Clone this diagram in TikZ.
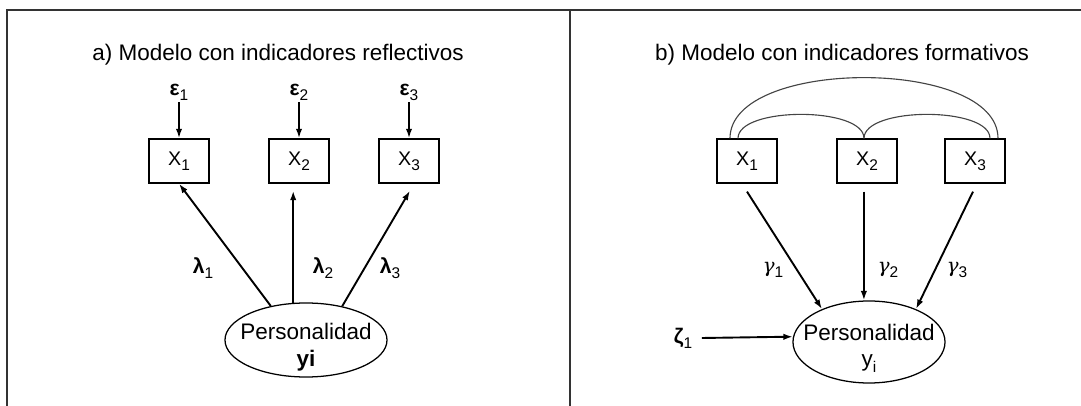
\documentclass[tikz,border=0pt]{standalone}
\usepackage{fontspec}
\setmainfont{Liberation Sans}
\newfontfamily\grkfont{DejaVu Serif}
\usetikzlibrary{arrows.meta,positioning,calc,shapes.geometric}
\definecolor{framegray}{HTML}{333333}
\definecolor{arcgray}{HTML}{444444}
\newcommand{\idx}[1]{\raisebox{-0.45ex}{\fontsize{11}{11}\selectfont #1}}
\newcommand{\gam}{{\grkfont\itshape\fontsize{14}{14}\selectfont γ}}
\tikzset{
  indbox/.style={
    draw,
    line width=0.9pt,
    minimum width=1.5cm,
    minimum height=1.1cm,
    inner sep=0pt,
    font=\fontsize{14}{14}\selectfont
  },
  latent/.style={draw, ellipse, line width=0.9pt, inner sep=0pt},
  latlabel/.style={align=center, font=\fontsize{16}{19}\selectfont, inner sep=0pt},
  paneltitle/.style={font=\fontsize{16}{16}\selectfont},
  coeflabel/.style={font=\fontsize{15}{15}\selectfont, inner sep=1pt},
  pathar/.style={-{Latex[length=2.4mm,width=1.6mm]}, line width=1.35pt},
  covarc/.style={line width=0.8pt, draw=arcgray},
  framerule/.style={line width=1.4pt, draw=framegray}
}

\begin{document}
\begin{tikzpicture}[x=0.025cm, y=-0.025cm]
\useasboundingbox (0,0) rectangle (1081,406);
% frame and divider
\draw[framerule] (7,406) -- (7,10) -- (1081,10);
\draw[framerule] (570,10) -- (570,406);

% a) reflective model
\node[paneltitle] (titleA) at (278,55) {a) Modelo con indicadores reflectivos};
\node[indbox] (ra1) at (179,161) {X\idx{1}};
\node[indbox] (ra2) at (299,161) {X\idx{2}};
\node[indbox] (ra3) at (409,161) {X\idx{3}};
\foreach \i in {1,2,3}
  \node[coeflabel, above=9mm of ra\i] (eps\i) {\textbf{ε}\idx{\i}};
\node[latent, minimum width=4.05cm, minimum height=1.85cm] (persA) at (306,340) {};
\node[latlabel] (persAtxt) at (306,347) {Personalidad\\\textbf{yi}};

\foreach \i in {1,2,3}
  \draw[pathar] (eps\i) -- (ra\i);
\draw[pathar] (persA.136) -- (ra1.south);
\draw[pathar] (persA.109) -- ($(persA.109 |- ra2.south)+(0,7)$);
\draw[pathar] (persA.43) -- ($(ra3.south)+(1,7)$);
\node[coeflabel] (lam1) at (203,268) {\textbf{λ}\idx{1}};
\node[coeflabel] (lam2) at (323,268) {\textbf{λ}\idx{2}};
\node[coeflabel] (lam3) at (390,268) {\textbf{λ}\idx{3}};

% b) formative model
\node[paneltitle] (titleB) at (842,55) {b) Modelo con indicadores formativos};
\node[indbox] (fb1) at (747,161) {X\idx{1}};
\node[indbox] (fb2) at (867,161) {X\idx{2}};
\node[indbox] (fb3) at (975,161) {X\idx{3}};
\node[latent, minimum width=3.8cm, minimum height=2.05cm] (persB) at (869,342) {};
\node[latlabel] (persBtxt) at (869,348) {Personalidad\\y\idx{i}};

\draw[covarc] ($(fb1.north)+(-17,0)$) .. controls +(0,-81) and +(0,-81) .. ($(fb3.north)+(23,0)$);
\draw[covarc] ($(fb1.north)+(-9,0)$) .. controls +(0,-32) and +(0,-32) .. ($(fb2.north)+(-3,0)$);
\draw[covarc] ($(fb2.north)+(-3,0)$) .. controls +(0,-32) and +(0,-32) .. ($(fb3.north)+(15,0)$);

\draw[pathar] ($(fb1.south)+(0,8)$) -- (persB.145);
\draw[pathar] ($(fb2.south -| persB.97)+(0,8)$) -- (persB.97);
\draw[pathar] ($(fb3.south)+(-2,8)$) -- (persB.35);
\node[coeflabel] (gam1) at (773,270) {\gam\idx{1}};
\node[coeflabel] (gam2) at (888,270) {\gam\idx{2}};
\node[coeflabel] (gam3) at (957,270) {\gam\idx{3}};
\node[coeflabel] (zeta1) at (683,338) {\textbf{ζ}\idx{1}};
\draw[pathar] ($(zeta1.east)+(8,0)$) -- (persB.176);
\end{tikzpicture}
\end{document}
